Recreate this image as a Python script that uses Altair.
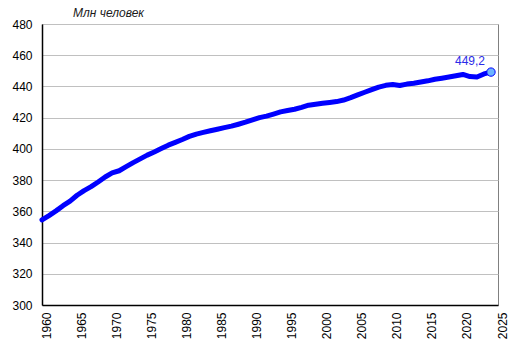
import altair as alt
import pandas as pd

years = list(range(1960, 2025))
population = [
    354.5, 357.3, 360.3, 363.6, 366.5, 370.3, 373.3, 375.8, 378.8, 382.0,
    384.6, 386.0, 388.6, 391.2, 393.6, 396.0, 398.0, 400.2, 402.4, 404.2,
    406.0, 408.0, 409.5, 410.6, 411.6, 412.6, 413.6, 414.6, 415.8, 417.1,
    418.6, 420.0, 421.0, 422.3, 423.7, 424.6, 425.4, 426.6, 428.0, 428.6,
    429.2, 429.7, 430.3, 431.3, 432.8, 434.6, 436.3, 438.0, 439.6, 440.7,
    441.2, 440.6, 441.5, 442.0, 442.8, 443.6, 444.6, 445.3, 446.0, 446.8,
    447.7, 446.3, 446.0, 448.0, 449.2,
]
x_ticks = list(range(1960, 2026, 5))
y_ticks = list(range(300, 481, 20))
last_label = "449,2"
unit_title = "Млн человек"

df = pd.DataFrame({"year": years, "pop": population})
last = df.tail(1).assign(label=last_label)

FONT = "Liberation Sans"

x_enc = alt.X(
    "year:Q",
    scale=alt.Scale(domain=[1960, 2025], nice=False, zero=False),
    axis=alt.Axis(
        values=x_ticks, format="d", labelAngle=270, title=None, grid=False,
        ticks=False, labelPadding=7, labelFontSize=12, labelFont=FONT,
        labelColor="black", domainColor="black", domainWidth=1.5,
        labelFlush=False, labelOverlap=False, labelOffset=4,
    ),
)
y_enc = alt.Y(
    "pop:Q",
    scale=alt.Scale(domain=[300, 480], nice=False, zero=False),
    axis=alt.Axis(
        values=y_ticks, title=None, grid=True, gridColor="#C0C0C0",
        gridWidth=1, ticks=False, labelPadding=10, labelFontSize=12,
        labelFont=FONT, labelColor="black", domainColor="black",
        domainWidth=1.5, labelOverlap=False, labelFlush=False,
    ),
)

line = alt.Chart(df).mark_line(color="#0000FF", strokeWidth=5, strokeCap="round",
                               strokeJoin="round").encode(x=x_enc, y=y_enc)
point = alt.Chart(last).mark_point(filled=True, fill="#6CB4FF", stroke="#0000FF",
                                   strokeWidth=1, size=70, opacity=1).encode(
    x=x_enc, y=y_enc)
label = alt.Chart(last).mark_text(align="right", baseline="bottom", dx=-6, dy=-4,
                                  fontSize=12, font=FONT, color="#2A2AE8").encode(
    x=x_enc, y=y_enc, text="label:N")
title = alt.Chart(pd.DataFrame({"t": [unit_title]})).mark_text(
    align="left", baseline="middle", fontSize=12, font=FONT, fontStyle="italic",
    color="#1a1a1a").encode(x=alt.value(31), y=alt.value(-11), text="t:N")

chart = alt.layer(line, point, label, title).properties(
    width=456,
    height=281,
    autosize=alt.AutoSizeParams(type="none"),
    padding={"left": 42, "top": 24, "right": 12, "bottom": 51},
).configure_view(stroke="#808080", strokeWidth=1)

chart.save("out.html", embed_options={"renderer": "svg", "actions": False})
